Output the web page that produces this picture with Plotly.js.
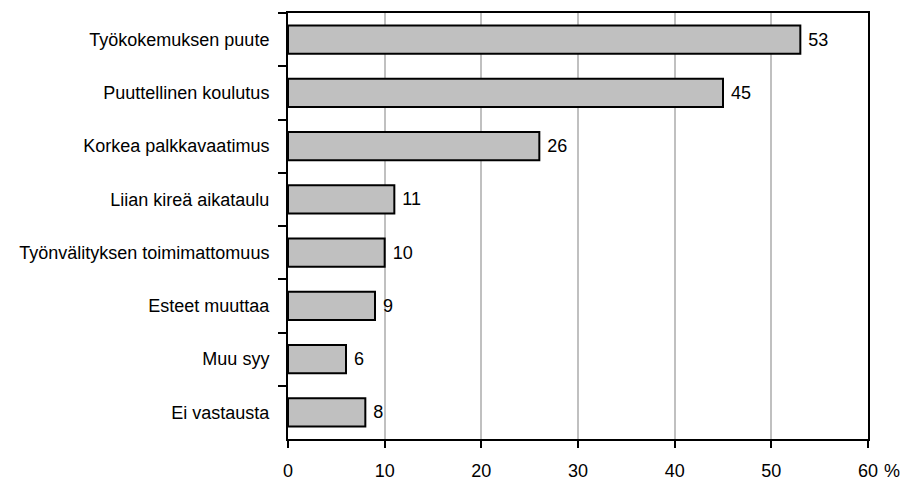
<!DOCTYPE html>
<html>
<head>
<meta charset="utf-8">
<script src="https://cdn.plot.ly/plotly-3.0.1.min.js"></script>
<style>
  html, body { margin: 0; padding: 0; background: #ffffff; }
  #chart { width: 903px; height: 482px; }
</style>
</head>
<body>
<div id="chart"></div>
<script>
const categories = [
  "Työkokemuksen puute",
  "Puuttellinen koulutus",
  "Korkea palkkavaatimus",
  "Liian kireä aikataulu",
  "Työnvälityksen toimimattomuus",
  "Esteet muuttaa",
  "Muu syy",
  "Ei vastausta"
];
const values = [53, 45, 26, 11, 10, 9, 6, 8];
const xTickVals = [0, 10, 20, 30, 40, 50, 60];
const xTickText = ["0", "10", "20", "30", "40", "50", "60"];
const unitLabel = "%";

const FONT = "Liberation Sans, Arial, sans-serif";
const FS = 18;

const trace = {
  type: "bar",
  orientation: "h",
  x: values,
  y: categories,
  marker: { color: "#c0c0c0", line: { color: "#000000", width: 2 } },
  text: values.map(v => String(v)),
  texttemplate: "&nbsp;%{text}",
  textposition: "outside",
  constraintext: "none",
  cliponaxis: false,
  textfont: { family: FONT, size: FS, color: "#000000" },
  hoverinfo: "none"
};

const layout = {
  width: 903,
  height: 482,
  margin: { l: 288, r: 34.5, t: 13, b: 43, pad: 0 },
  paper_bgcolor: "#ffffff",
  plot_bgcolor: "#ffffff",
  showlegend: false,
  bargap: 0.47,
  font: { family: FONT, size: FS, color: "#000000" },
  xaxis: {
    range: [0, 60],
    tickvals: xTickVals,
    ticktext: xTickText,
    showgrid: true,
    gridcolor: "#c0c0c0",
    gridwidth: 2,
    zeroline: false,
    showline: true,
    linecolor: "#000000",
    linewidth: 2,
    mirror: true,
    ticks: "outside",
    ticklen: 7,
    tickwidth: 2,
    tickcolor: "#000000",
    ticklabelstandoff: 7,
    tickfont: { family: FONT, size: FS, color: "#000000" },
    fixedrange: true
  },
  yaxis: {
    type: "category",
    autorange: "reversed",
    showgrid: false,
    zeroline: false,
    showline: true,
    linecolor: "#000000",
    linewidth: 2,
    mirror: true,
    ticks: "outside",
    ticklen: 8,
    tickson: "boundaries",
    tickwidth: 2,
    tickcolor: "#000000",
    ticklabelstandoff: 13,
    tickfont: { family: FONT, size: FS, color: "#000000" },
    fixedrange: true
  },
  annotations: [{
    text: unitLabel,
    xref: "x", yref: "paper",
    x: 60, y: -0.0745,
    xanchor: "left", yanchor: "middle",
    xshift: 14,
    showarrow: false,
    font: { family: FONT, size: FS, color: "#000000" }
  }]
};

Plotly.newPlot("chart", [trace], layout, { staticPlot: true, displayModeBar: false });
</script>
</body>
</html>
